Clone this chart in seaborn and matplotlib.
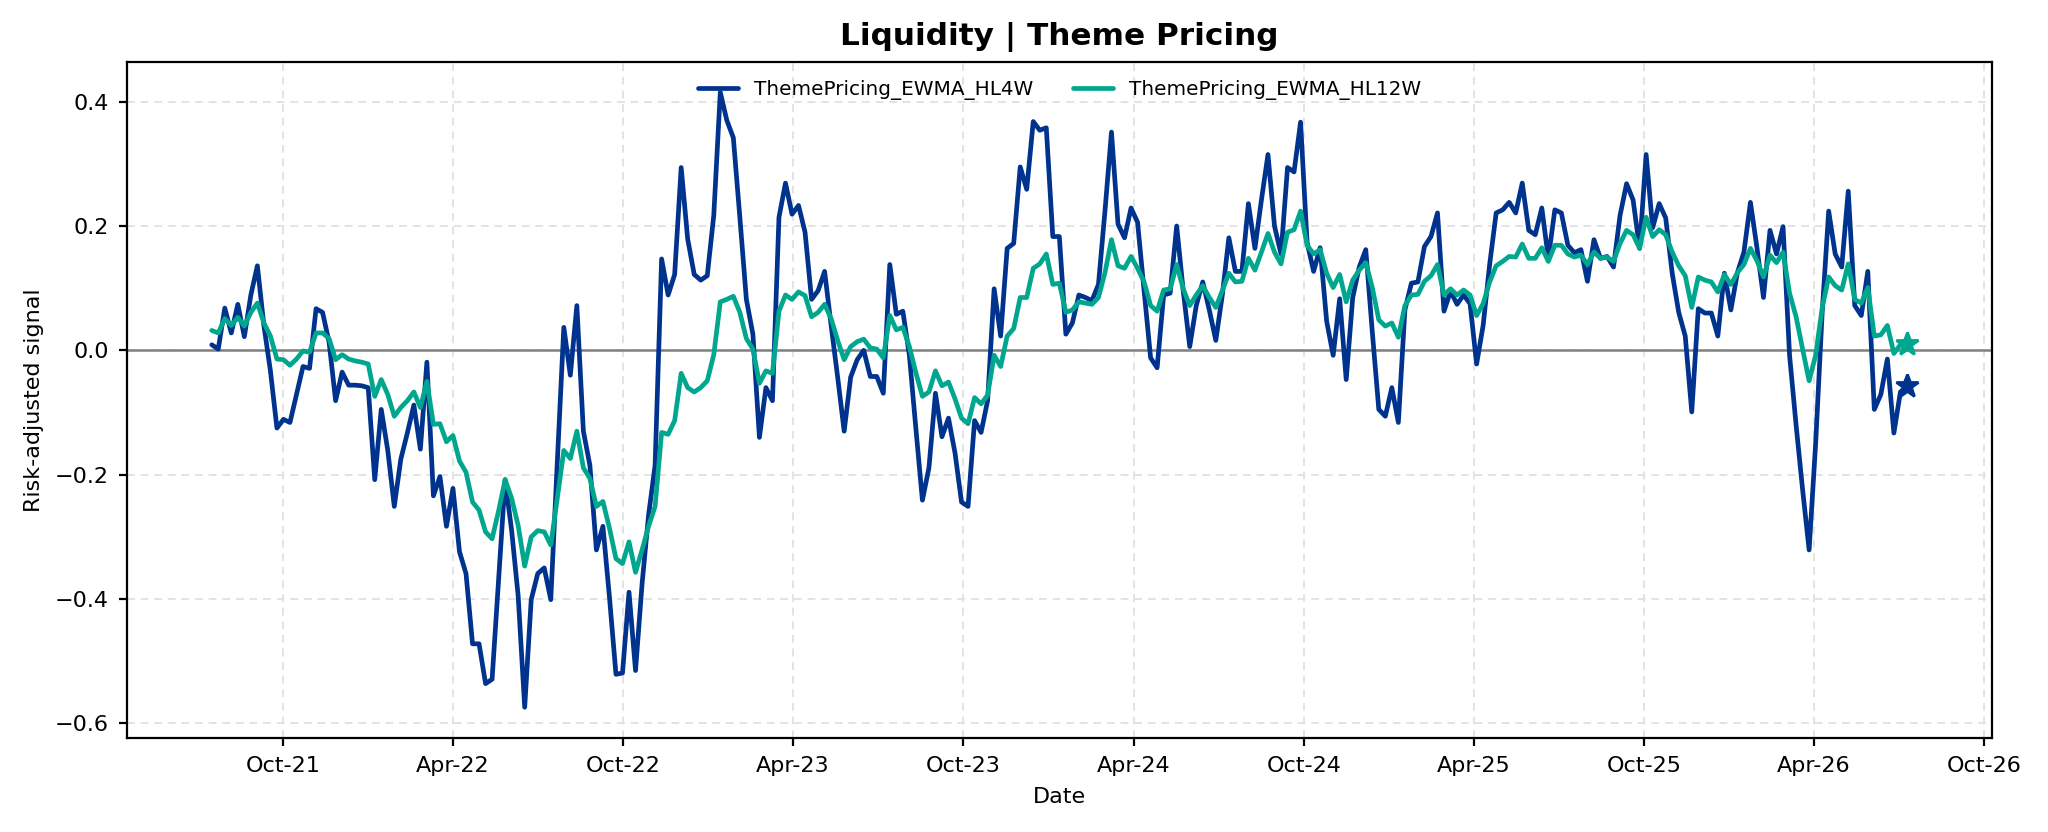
import numpy as np
import pandas as pd
import matplotlib
matplotlib.use("Agg")
import matplotlib.pyplot as plt
import matplotlib.dates as mdates
import seaborn as sns

# ---- data (weekly) ----
start_date = "2021-07-16"
n_weeks = 261

hl4w = [
    0.009, 0.002, 0.068, 0.028, 0.074, 0.022, 0.089, 0.136, 0.040, -0.033,
    -0.125, -0.111, -0.116, -0.071, -0.026, -0.029, 0.067, 0.061, 0.013, -0.081,
    -0.035, -0.056, -0.056, -0.057, -0.060, -0.208, -0.095, -0.161, -0.251, -0.175,
    -0.133, -0.088, -0.159, -0.019, -0.234, -0.203, -0.283, -0.222, -0.324, -0.359,
    -0.472, -0.472, -0.536, -0.529, -0.369, -0.208, -0.290, -0.395, -0.574, -0.401,
    -0.359, -0.350, -0.401, -0.180, 0.037, -0.040, 0.072, -0.130, -0.185, -0.321,
    -0.283, -0.397, -0.521, -0.519, -0.389, -0.515, -0.376, -0.265, -0.185, 0.147,
    0.089, 0.122, 0.294, 0.179, 0.122, 0.113, 0.120, 0.217, 0.415, 0.370,
    0.342, 0.214, 0.082, 0.026, -0.140, -0.060, -0.081, 0.214, 0.269, 0.219,
    0.233, 0.190, 0.082, 0.096, 0.127, 0.040, -0.043, -0.130, -0.043, -0.015,
    0.000, -0.042, -0.042, -0.069, 0.138, 0.058, 0.063, -0.008, -0.126, -0.241,
    -0.189, -0.069, -0.139, -0.109, -0.165, -0.244, -0.251, -0.113, -0.132, -0.081,
    0.099, 0.023, 0.164, 0.172, 0.295, 0.259, 0.368, 0.354, 0.358, 0.183,
    0.183, 0.026, 0.044, 0.089, 0.085, 0.080, 0.106, 0.224, 0.351, 0.203,
    0.181, 0.229, 0.206, 0.096, -0.012, -0.028, 0.089, 0.092, 0.200, 0.096,
    0.006, 0.072, 0.110, 0.065, 0.016, 0.089, 0.181, 0.127, 0.127, 0.236,
    0.164, 0.242, 0.315, 0.200, 0.155, 0.294, 0.287, 0.367, 0.174, 0.127,
    0.165, 0.047, -0.008, 0.083, -0.047, 0.085, 0.134, 0.162, 0.030, -0.095,
    -0.106, -0.060, -0.116, 0.065, 0.108, 0.110, 0.167, 0.183, 0.221, 0.063,
    0.095, 0.074, 0.089, 0.075, -0.022, 0.040, 0.138, 0.221, 0.226, 0.238,
    0.221, 0.269, 0.193, 0.186, 0.229, 0.148, 0.226, 0.221, 0.169, 0.157,
    0.162, 0.111, 0.178, 0.148, 0.151, 0.134, 0.217, 0.268, 0.242, 0.164,
    0.315, 0.197, 0.236, 0.213, 0.124, 0.061, 0.023, -0.099, 0.067, 0.060,
    0.060, 0.023, 0.124, 0.065, 0.125, 0.158, 0.238, 0.165, 0.085, 0.193,
    0.155, 0.199, -0.008, -0.120, -0.224, -0.321, -0.150, 0.060, 0.224, 0.155,
    0.134, 0.256, 0.072, 0.056, 0.127, -0.095, -0.071, -0.014, -0.133, -0.067,
    -0.057,
]

hl12w = [
    0.032, 0.028, 0.051, 0.040, 0.053, 0.039, 0.061, 0.076, 0.044, 0.023,
    -0.014, -0.015, -0.024, -0.014, -0.001, -0.003, 0.028, 0.028, 0.019, -0.015,
    -0.007, -0.014, -0.017, -0.019, -0.022, -0.074, -0.047, -0.071, -0.106, -0.092,
    -0.081, -0.067, -0.092, -0.050, -0.119, -0.118, -0.147, -0.137, -0.178, -0.196,
    -0.244, -0.257, -0.292, -0.303, -0.258, -0.208, -0.238, -0.282, -0.347, -0.300,
    -0.290, -0.292, -0.313, -0.238, -0.161, -0.174, -0.130, -0.189, -0.206, -0.251,
    -0.243, -0.286, -0.335, -0.343, -0.308, -0.357, -0.321, -0.283, -0.251, -0.132,
    -0.135, -0.113, -0.037, -0.060, -0.067, -0.060, -0.049, -0.007, 0.078, 0.082,
    0.087, 0.061, 0.019, 0.002, -0.053, -0.033, -0.037, 0.063, 0.089, 0.082,
    0.094, 0.088, 0.054, 0.061, 0.074, 0.051, 0.016, -0.015, 0.006, 0.014,
    0.018, 0.004, 0.002, -0.012, 0.056, 0.033, 0.037, 0.006, -0.036, -0.074,
    -0.067, -0.033, -0.057, -0.051, -0.078, -0.109, -0.118, -0.076, -0.086, -0.072,
    -0.008, -0.026, 0.023, 0.035, 0.085, 0.085, 0.132, 0.139, 0.155, 0.106,
    0.108, 0.061, 0.065, 0.078, 0.076, 0.074, 0.085, 0.125, 0.178, 0.136,
    0.132, 0.151, 0.132, 0.110, 0.072, 0.063, 0.097, 0.099, 0.138, 0.099,
    0.072, 0.089, 0.104, 0.085, 0.069, 0.096, 0.124, 0.110, 0.111, 0.148,
    0.129, 0.158, 0.188, 0.158, 0.139, 0.190, 0.194, 0.224, 0.169, 0.155,
    0.162, 0.124, 0.101, 0.122, 0.078, 0.113, 0.129, 0.141, 0.101, 0.049,
    0.039, 0.044, 0.021, 0.072, 0.089, 0.090, 0.111, 0.120, 0.138, 0.089,
    0.099, 0.089, 0.097, 0.089, 0.056, 0.075, 0.110, 0.136, 0.143, 0.151,
    0.150, 0.171, 0.148, 0.148, 0.165, 0.143, 0.169, 0.169, 0.155, 0.150,
    0.153, 0.138, 0.158, 0.148, 0.150, 0.143, 0.172, 0.193, 0.186, 0.164,
    0.214, 0.183, 0.194, 0.186, 0.158, 0.136, 0.120, 0.069, 0.118, 0.113,
    0.110, 0.094, 0.122, 0.106, 0.125, 0.138, 0.164, 0.144, 0.118, 0.153,
    0.141, 0.158, 0.092, 0.054, 0.002, -0.049, -0.008, 0.068, 0.118, 0.104,
    0.097, 0.139, 0.082, 0.076, 0.101, 0.023, 0.025, 0.040, -0.005, 0.009,
    0.011,
]

series_names = ["ThemePricing_EWMA_HL4W", "ThemePricing_EWMA_HL12W"]
series_colors = ["#00338D", "#00A78E"]
title_text = "Liquidity | Theme Pricing"
x_label = "Date"
y_label = "Risk-adjusted signal"

dates = pd.date_range(start=start_date, periods=n_weeks, freq="7D")
df = pd.DataFrame({"Date": dates, series_names[0]: hl4w, series_names[1]: hl12w})

# ---- style ----
sns.set_style("ticks")
plt.rcParams["font.family"] = ["DejaVu Sans"]
plt.rcParams["text.color"] = "black"
plt.rcParams["axes.labelcolor"] = "black"
plt.rcParams["xtick.color"] = "black"
plt.rcParams["ytick.color"] = "black"

fig, ax = plt.subplots(figsize=(10.24, 4.16), dpi=200)
fig.subplots_adjust(left=0.062, right=0.9725, top=0.926, bottom=0.113)

ax.axhline(0, color="#808080", lw=0.9, zorder=1)

for name, col in zip(series_names, series_colors):
    sns.lineplot(data=df, x="Date", y=name, ax=ax, color=col, lw=1.7, label=name, zorder=3)
    ax.plot(df["Date"].iloc[-1], df[name].iloc[-1], marker="*", color=col,
            markersize=8.5, linestyle="none", zorder=4)

ax.grid(True, linestyle=(0, (4, 3)), color="#e3e3e3", lw=0.7)
ax.set_axisbelow(True)

ax.xaxis.set_major_locator(mdates.MonthLocator(bymonth=[4, 10]))
ax.xaxis.set_major_formatter(mdates.DateFormatter("%b-%y"))
ax.set_yticks([-0.6, -0.4, -0.2, 0.0, 0.2, 0.4])
ax.tick_params(axis="both", labelsize=8, length=3, width=0.8, color="black",
               labelcolor="black")

for s in ax.spines.values():
    s.set_color("black")
    s.set_linewidth(0.8)

ax.set_title(title_text, fontsize=11.2, fontweight="bold", pad=6, color="black")
ax.set_xlabel(x_label, fontsize=8, color="black")
ax.set_ylabel(y_label, fontsize=8, color="black")

leg = ax.legend(loc="upper center", ncol=2, frameon=False, fontsize=7.2,
                handlelength=2.0, columnspacing=2.0)
for t in leg.get_texts():
    t.set_color("black")

fig.savefig("out.png", dpi=200)
